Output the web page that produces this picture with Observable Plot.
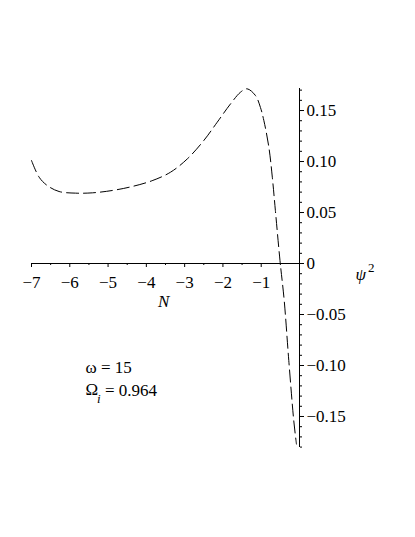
<!DOCTYPE html>
<html><head><meta charset="utf-8">
<script src="https://cdn.jsdelivr.net/npm/d3@7"></script>
<script src="https://cdn.jsdelivr.net/npm/@observablehq/plot@0.6"></script>
<style>
html,body{margin:0;padding:0;background:#fff}
svg{display:block}
svg, svg text{font-family:"Liberation Serif","Times New Roman",Times,serif !important;}
</style>
</head><body><div id="chart"></div><script>
// curve values
const N    = [-7.0, -6.8, -6.59, -6.28, -5.85, -5.41, -4.89, -4.37, -3.85, -3.37, -2.93, -2.50, -2.15, -1.80, -1.54, -1.37, -1.15, -1.02, -0.93, -0.80, -0.71, -0.63, -0.51, -0.40, -0.28, -0.15, -0.08];
const psi2 = [0.101, 0.0846, 0.0765, 0.0706, 0.069, 0.0693, 0.0716, 0.0755, 0.0812, 0.0895, 0.1026, 0.1206, 0.1385, 0.1566, 0.168, 0.1713, 0.1647, 0.153, 0.140, 0.114, 0.0846, 0.052, 0.003, -0.036, -0.095, -0.154, -0.177];

const xMajor = [-7, -6, -5, -4, -3, -2, -1];
const xMajorLabels = ["−7", "−6", "−5", "−4", "−3", "−2", "−1"];
const xMinor = [-6.5, -5.5, -4.5, -3.5, -2.5, -1.5, -0.5];
const yMajor = [-0.15, -0.10, -0.05, 0, 0.05, 0.10, 0.15];
const yMajorLabels = ["−0.15", "−0.10", "−0.05", "0", "0.05", "0.10", "0.15"];
const yMinor = d3.range(-18, 18).map(d => d / 100);
const xDomain = [-7, 0];
const yDomain = [-0.1804, 0.1716];

const xLabel = "N";
const yLabel = "ψ";
const yLabelSup = "2";
const omegaText = "ω = 15";
const OmegaSym = "Ω";
const OmegaSub = "i";
const OmegaRest = " = 0.964";

const data = N.map((n, i) => ({N: n, v: psi2[i]}));

const W = 415, H = 537, mL = 31, mR = 116, mT = 88, mB = 90;
const yPix = d3.scaleLinear(yDomain, [H - mB, mT]);
const shift = yPix(0) - (H - mB);
const font = '"Liberation Serif", "Times New Roman", Times, serif';

const chart = Plot.plot({
  width: W, height: H,
  marginLeft: mL, marginRight: mR, marginTop: mT, marginBottom: mB,
  style: {fontFamily: font, fontSize: "17px", color: "black", background: "white", overflow: "visible"},
  x: {domain: xDomain, axis: null, label: null},
  y: {domain: yDomain, axis: null, label: null},
  marks: [
    Plot.ruleY([0], {stroke: "black", strokeWidth: 1}),
    Plot.ruleX([0], {stroke: "black", strokeWidth: 1}),
    Plot.axisX(xMinor, {anchor: "bottom", tickSize: 2, tickFormat: () => "", dy: shift, label: null}),
    Plot.axisX(xMajor, {anchor: "bottom", tickSize: 4, tickPadding: 8, dy: shift, label: null,
      tickFormat: d => xMajorLabels[xMajor.indexOf(d)]}),
    Plot.axisY(yMinor, {anchor: "right", tickSize: 2, tickFormat: () => "", label: null}),
    Plot.axisY(yMajor, {anchor: "right", tickSize: 4, tickPadding: 3, label: null,
      tickFormat: d => yMajorLabels[yMajor.findIndex(t => Math.abs(t - d) < 1e-9)]}),
    Plot.line(data, {x: "N", y: "v", curve: "catmull-rom", stroke: "black", strokeWidth: 1, strokeDasharray: "12,5"}),
    Plot.text([xLabel], {x: -3.55, y: -0.0431, text: d => d, textAnchor: "middle", lineAnchor: "bottom", fontStyle: "italic"}),
    Plot.text([yLabel], {x: 1.46, y: -0.0157, text: d => d, textAnchor: "start", lineAnchor: "bottom"}),
    Plot.text([omegaText], {x: -5.59, y: -0.1078, text: d => d, textAnchor: "start", lineAnchor: "bottom"}),
    Plot.text([OmegaSym], {x: -5.59, y: -0.1294, text: d => d, textAnchor: "start", lineAnchor: "bottom"})
  ]
});
document.getElementById("chart").appendChild(chart);

// rich text: superscript / subscript
const texts = d3.select(chart).selectAll("text");
texts.filter(function() { return this.textContent === yLabel; }).each(function() {
  const t = d3.select(this);
  t.text(null);
  t.append("tspan").attr("font-style", "italic").text(yLabel);
  t.append("tspan").attr("font-size", "13px").attr("dy", "-0.6em").attr("dx", "2").text(yLabelSup);
});
texts.filter(function() { return this.textContent === OmegaSym; }).each(function() {
  const t = d3.select(this);
  t.text(null);
  t.append("tspan").text(OmegaSym);
  t.append("tspan").attr("font-style", "italic").attr("font-size", "13px").attr("dy", "0.55em").attr("dx", "-1").text(OmegaSub);
  t.append("tspan").attr("dy", "-0.42em").text(OmegaRest);
});
</script></body></html>
